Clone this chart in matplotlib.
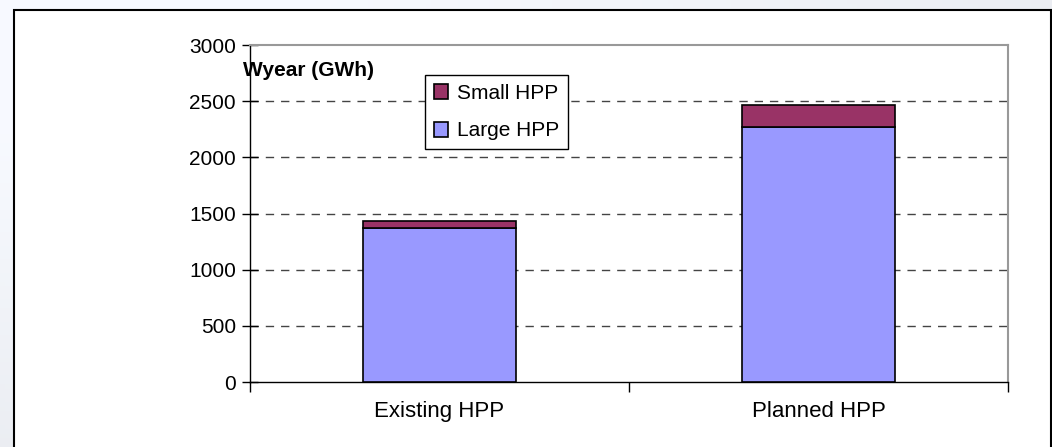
import numpy as np
import matplotlib.pyplot as plt
from matplotlib.patches import Rectangle

categories = ['Existing HPP', 'Planned HPP']
large_hpp = [1370, 2270]
small_hpp = [65, 195]
yticks = [0, 500, 1000, 1500, 2000, 2500, 3000]

plt.rcParams['font.family'] = ['Liberation Sans', 'DejaVu Sans']

fig = plt.figure(figsize=(10.52, 4.47), dpi=100)

# faint grey backdrop outside the chart frame
bg = fig.add_axes([0, 0, 1, 1], zorder=-2)
gx, gy = np.meshgrid(np.linspace(0, 1, 200), np.linspace(0, 1, 100))
shade = 1 - 0.07 * np.clip((1 - gx) * gy + gx * (1 - gy) - 0.3, 0, 1)
bg.imshow(np.dstack([shade * 0.97, shade * 0.98, shade, np.ones_like(shade)]),
          extent=[0, 1, 0, 1], aspect='auto', origin='upper')
bg.axis('off')
fig.add_artist(Rectangle((14 / 1052, -0.1), (1051 - 14) / 1052, 1.1 - 10 / 447,
                         transform=fig.transFigure, facecolor='white',
                         edgecolor='black', linewidth=1.5, zorder=-1))

ax = fig.add_axes([250 / 1052, 1 - 382 / 447, (1008 - 250) / 1052, (382 - 45) / 447])
x = np.arange(len(categories))
w = 0.406
ax.bar(x, large_hpp, w, color='#9999FF', edgecolor='black', linewidth=1.2,
       label='Large HPP', zorder=3)
ax.bar(x, small_hpp, w, bottom=large_hpp, color='#993366', edgecolor='black',
       linewidth=1.2, label='Small HPP', zorder=3)

ax.set_xlim(-0.5, 1.5)
ax.set_ylim(0, 3000)
ax.set_yticks(yticks)
ax.set_yticklabels([str(v) for v in yticks], fontsize=15)
ax.tick_params(axis='y', direction='inout', length=12, width=1, pad=4)
ax.set_xticks([-0.5, 0.5, 1.5])
ax.set_xticklabels([])
ax.set_xticks(x, minor=True)
ax.set_xticklabels(categories, minor=True, fontsize=16)
ax.tick_params(axis='x', which='major', direction='out', length=7, width=1)
ax.tick_params(axis='x', which='minor', length=0, pad=14)

for v in yticks[1:-1]:
    ax.axhline(v, color='#444444', linewidth=1, linestyle=(0, (6, 5)), zorder=1)

for s in ['top', 'right']:
    ax.spines[s].set_color('#999999')
    ax.spines[s].set_linewidth(1.5)
for s in ['left', 'bottom']:
    ax.spines[s].set_color('black')
    ax.spines[s].set_linewidth(1)

ax.text(243 / 1052, 1 - 70 / 447, 'Wyear (GWh)', transform=fig.transFigure,
        fontsize=15, fontweight='bold', va='center', ha='left')

h, l = ax.get_legend_handles_labels()
leg = ax.legend(h[::-1], l[::-1], loc='upper left',
                bbox_to_anchor=(425 / 1052, 1 - 75 / 447),
                bbox_transform=fig.transFigure, borderaxespad=0,
                fontsize=15, handlelength=0.7, handleheight=0.7,
                handletextpad=0.4, labelspacing=0.9, borderpad=0.42,
                fancybox=False, framealpha=1, edgecolor='black')
leg.get_frame().set_linewidth(1)

fig.savefig('out.png', dpi=100)
